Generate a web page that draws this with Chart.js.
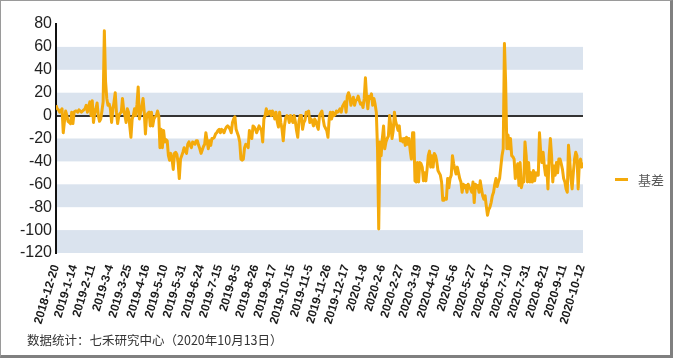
<!DOCTYPE html>
<html>
<head>
<meta charset="utf-8">
<script src="https://cdn.jsdelivr.net/npm/chart.js@4.4.0/dist/chart.umd.min.js"></script>
<style>
    body { margin: 0; background: #fff; }
    #wrap { position: relative; width: 675px; height: 360px; overflow: hidden; }
    #chart { position: absolute; left: 0; top: 0; }
    .frame {
        position: absolute; left: 0; top: 0; width: 669px; height: 354px;
        border: 1px solid #9a9a9a; border-right: 3px solid #808080; border-bottom: 3px solid #808080;
        pointer-events: none;
    }
    .legend { position: absolute; left: 615px; top: 170px; height: 18px; display: flex; align-items: center;
        font: 13px "Noto Sans CJK SC", sans-serif; color: #595959; }
    .legend .swatch { display: inline-block; width: 13px; height: 3px; background: #f4aa0b; margin-right: 10px; }
    .note { position: absolute; left: 27px; top: 330px; font: 12.5px "Noto Sans CJK SC", sans-serif; color: #333; }
</style>
</head>
<body>
<div id="wrap">
    <canvas id="chart" width="675" height="360"></canvas>
    <div class="frame"></div>
    <div class="legend"><span class="swatch"></span><span>基差</span></div>
    <div class="note">数据统计：七禾研究中心（2020年10月13日）</div>
</div>
<script>
// 横轴标签：每15个交易日一个
const tickLabels = ['2018-12-20', '2019-1-14', '2019-2-11', '2019-3-4', '2019-3-25', '2019-4-16',
    '2019-5-10', '2019-5-31', '2019-6-24', '2019-7-15', '2019-8-5', '2019-8-26', '2019-9-17',
    '2019-10-15', '2019-11-5', '2019-11-26', '2019-12-17', '2020-1-8', '2020-2-6', '2020-2-27',
    '2020-3-19', '2020-4-10', '2020-5-6', '2020-5-27', '2020-6-17', '2020-7-10', '2020-7-31',
    '2020-8-21', '2020-9-11', '2020-10-12'];
const tickEvery = 15;

// 基差（按交易日）
const basis = [
    9, 6, 5, 3, 4, 6, -15, -5, 4, 0,
    -5, -6, -7, 3, -7, 3, 4, 4, 3, 5,
    4, 3, 4, 5, 6, 9, 3, 8, 12, 0,
    13, -6, 2, 6, 11, 0, -5, -3, 4, 12,
    74, 30, 15, 9, 10, 6, -6, 5, 12, 20,
    3, -7, 0, 2, 3, 15, 5, 0, -6, 6,
    3, -9, -19, -3, 0, 6, 0, 10, 25, -3,
    3, 8, 15, 3, -16, 0, 2, 3, -9, 3,
    -9, -3, -1, 0, 4, 0, -28, -12, -28, -13,
    -23, -21, -22, -35, -39, -33, -38, -47, -33, -32,
    -34, -41, -55, -38, -35, -32, -28, -31, -33, -25,
    -23, -26, -28, -23, -24, -25, -22, -22, -26, -29,
    -33, -30, -27, -25, -15, -22, -29, -22, -26, -20,
    -20, -19, -16, -15, -13, -12, -15, -12, -13, -15,
    -12, -10, -9, -10, -12, -15, -6, -3, -1, -12,
    -15, -18, -23, -38, -39, -38, -28, -25, -26, -28,
    -13, -18, -20, -9, -10, -12, -15, -12, -9, -11,
    -13, -23, -3, 0, 6, 1, 3, 4, 0, 4,
    2, -3, 3, -5, -10, 3, -6, -12, -22, -9,
    -2, 0, -1, -6, 0, -3, -6, 0, -5, -13,
    -19, -5, 0, 0, -12, -6, -4, 3, 3, 4,
    -6, -3, -5, -9, -3, -5, -9, -12, 0, 2,
    4, -3, -9, -11, -13, -19, -3, 3, -3, 3,
    0, 1, 4, 3, 4, 6, 3, 8, 10, 12,
    3, 17, 20, 17, 9, 13, 16, 9, 13, 14,
    17, 13, 10, 11, 7, 15, 33, 15, 6, 17,
    15, 19, 9, 15, 10, 3, -29, -99, -23, -35,
    -20, -9, -29, -23, -20, -18, 0, -9, -20, -13,
    3, -5, -9, -13, -9, -22, -20, -23, -20, -26,
    -19, -25, -20, -30, -38, -15, -15, -57, -58, -41,
    -58, -41, -42, -45, -57, -50, -57, -47, -35, -31,
    -45, -35, -45, -33, -35, -40, -48, -50, -52, -58,
    -74, -74, -72, -73, -55, -63, -55, -52, -35, -42,
    -47, -51, -45, -50, -55, -58, -67, -60, -63, -61,
    -67, -60, -63, -64, -67, -58, -76, -60, -63, -61,
    -67, -57, -64, -70, -73, -70, -79, -87, -82, -80,
    -76, -70, -67, -60, -55, -62, -58, -55, -45, -35,
    -29, 63, 29, -29, -17, -29, -20, -35, -36, -38,
    -55, -47, -42, -61, -41, -63, -58, -58, -23, -35,
    -58, -41, -58, -50, -58, -48, -57, -50, -52, -52,
    -15, -32, -41, -32, -44, -52, -44, -64, -35, -20,
    -35, -58, -44, -52, -41, -50, -38, -38, -42, -47,
    -55, -58, -64, -67, -26, -38, -55, -64, -50, -38,
    -32, -35, -64, -41, -38, -45, -41
];

// 纵轴范围
const yMin = -120, yMax = 80, yStep = 20;

// 隔行底色
const bandPlugin = {
    id: 'bands',
    beforeDraw(chart) {
        const { ctx, chartArea: a, scales: { y } } = chart;
        ctx.save();
        ctx.fillStyle = '#dae3ee';
        y.ticks.forEach((t, k) => {
            if (k % 2 === 1 || k === y.ticks.length - 1) return;
            const top = y.getPixelForValue(y.ticks[k + 1].value);
            const bot = y.getPixelForValue(t.value);
            ctx.fillRect(a.left, top, a.right - a.left, bot - top);
        });
        ctx.restore();
    }
};

new Chart(document.getElementById('chart'), {
    type: 'line',
    data: {
        labels: basis.map((_, i) => i),
        datasets: [{
            label: '基差',
            data: basis,
            borderColor: '#f4aa0b',
            borderWidth: 3,
            pointRadius: 0,
            tension: 0,
            borderJoinStyle: 'round'
        }]
    },
    options: {
        responsive: false,
        animation: false,
        layout: { padding: { left: 0, top: 24, right: 92, bottom: 0 } },
        plugins: { legend: { display: false }, tooltip: { enabled: false } },
        scales: {
            x: {
                type: 'linear',
                min: 0,
                max: basis.length - 1,
                afterBuildTicks: s => { s.ticks = tickLabels.map((_, k) => ({ value: k * tickEvery })); },
                afterFit: s => { s.height = 107; },
                grid: { display: false },
                border: { display: false },
                ticks: {
                    autoSkip: false,
                    minRotation: 73,
                    maxRotation: 73,
                    padding: 2,
                    color: '#1a1a1a',
                    font: { family: '"Liberation Sans", Arial, sans-serif', size: 12, weight: 'bold' },
                    callback: (v, i) => tickLabels[i]
                }
            },
            y: {
                min: yMin,
                max: yMax,
                afterFit: s => { s.width = 56; },
                grid: {
                    drawTicks: false,
                    lineWidth: 2,
                    color: c => c.tick && c.tick.value === 0 ? '#333' : 'rgba(0,0,0,0)'
                },
                border: { display: true, color: '#111', width: 2 },
                ticks: {
                    stepSize: yStep,
                    autoSkip: false,
                    padding: 4,
                    color: '#222',
                    font: { family: '"Liberation Sans", Arial, sans-serif', size: 16 }
                }
            }
        }
    },
    plugins: [bandPlugin]
});
</script>
</body>
</html>
